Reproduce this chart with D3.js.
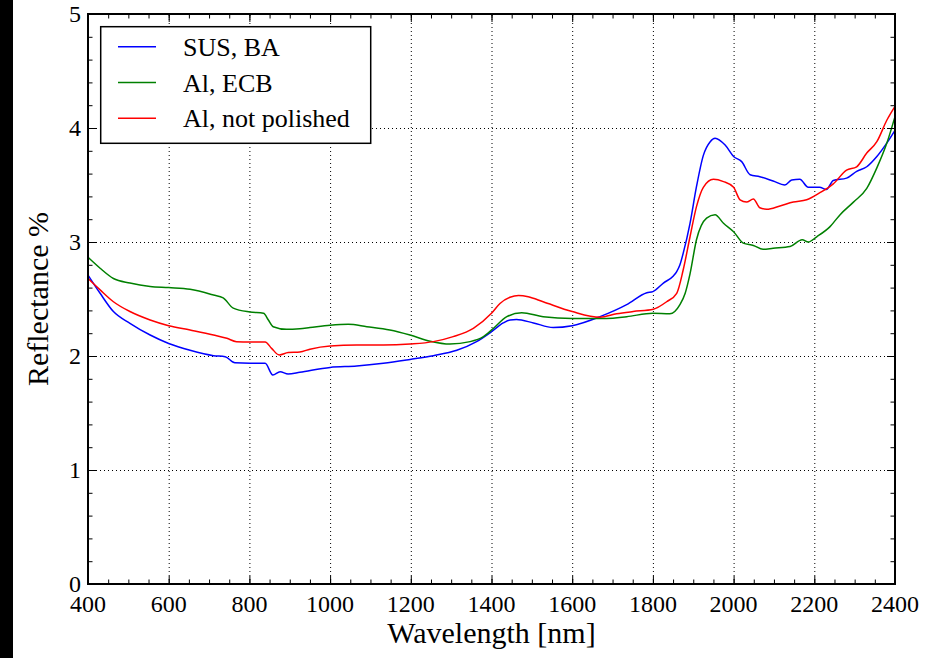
<!DOCTYPE html>
<html>
<head>
<meta charset="utf-8">
<script src="https://cdn.jsdelivr.net/npm/d3@7"></script>
</head>
<body style="margin:0;background:#fff">
<svg id="chart" width="925" height="658"></svg>
<script>
// series: [wavelength nm, reflectance %]
const susBA = [
  [400, 2.71], [430, 2.55], [463, 2.39], [504, 2.287], [554, 2.184], [600, 2.11],
  [653, 2.05], [711, 2.003], [740, 1.994], [764, 1.94], [801, 1.936], [839, 1.936],
  [858, 1.833], [876, 1.862], [896, 1.842], [925, 1.857], [1000, 1.90], [1066, 1.912],
  [1132, 1.936], [1198, 1.97], [1256, 2.003], [1314, 2.05], [1363, 2.126], [1400, 2.213],
  [1429, 2.29], [1446, 2.316], [1462, 2.32], [1504, 2.29], [1553, 2.25], [1600, 2.266],
  [1669, 2.345], [1735, 2.45], [1785, 2.555], [1800, 2.565], [1826, 2.64], [1850, 2.70],
  [1859, 2.74], [1867, 2.80], [1875, 2.90], [1892, 3.164], [1908, 3.485], [1925, 3.76],
  [1942, 3.88], [1954, 3.91], [1979, 3.85], [2000, 3.75], [2020, 3.705], [2041, 3.59],
  [2065, 3.573], [2098, 3.535], [2127, 3.50], [2144, 3.544], [2164, 3.55], [2185, 3.48],
  [2213, 3.48], [2230, 3.46], [2247, 3.54], [2280, 3.56], [2305, 3.62], [2330, 3.66],
  [2355, 3.75], [2380, 3.87], [2400, 3.98]
];

const alECB = [
  [400, 2.866], [430, 2.77], [463, 2.68], [504, 2.64], [554, 2.61], [600, 2.60],
  [653, 2.585], [711, 2.535], [735, 2.51], [760, 2.42], [801, 2.386], [835, 2.375],
  [847, 2.316], [859, 2.257], [892, 2.234], [925, 2.24], [950, 2.25], [1000, 2.27],
  [1045, 2.278], [1091, 2.257], [1148, 2.228], [1198, 2.184], [1248, 2.13], [1297, 2.105],
  [1347, 2.126], [1380, 2.17], [1405, 2.243], [1438, 2.345], [1475, 2.38], [1528, 2.345],
  [1600, 2.33], [1685, 2.33], [1735, 2.345], [1800, 2.375], [1842, 2.37], [1867, 2.45],
  [1880, 2.55], [1892, 2.72], [1908, 3.02], [1933, 3.21], [1954, 3.24], [1975, 3.164],
  [2000, 3.09], [2024, 2.99], [2049, 2.97], [2073, 2.936], [2098, 2.945], [2140, 2.96],
  [2170, 3.02], [2185, 3.0], [2206, 3.046], [2239, 3.135], [2264, 3.24], [2297, 3.35],
  [2330, 3.47], [2355, 3.65], [2380, 3.87], [2400, 4.10]
];

const alNotPolished = [
  [400, 2.68], [430, 2.58], [463, 2.476], [504, 2.39], [554, 2.316], [600, 2.266],
  [653, 2.228], [711, 2.184], [744, 2.155], [768, 2.126], [801, 2.123], [839, 2.123],
  [855, 2.067], [874, 2.009], [896, 2.03], [925, 2.035], [950, 2.06], [1000, 2.088],
  [1066, 2.096], [1132, 2.096], [1198, 2.105], [1256, 2.126], [1305, 2.17], [1355, 2.243],
  [1400, 2.375], [1421, 2.46], [1446, 2.515], [1467, 2.53], [1491, 2.52], [1528, 2.476],
  [1600, 2.39], [1669, 2.34], [1710, 2.37], [1751, 2.39], [1801, 2.41], [1834, 2.476],
  [1859, 2.55], [1875, 2.754], [1892, 3.046], [1908, 3.31], [1925, 3.48], [1950, 3.55],
  [1975, 3.53], [2000, 3.48], [2016, 3.37], [2032, 3.35], [2049, 3.377], [2065, 3.30],
  [2082, 3.287], [2115, 3.316], [2148, 3.35], [2181, 3.37], [2213, 3.43], [2247, 3.51],
  [2280, 3.63], [2305, 3.66], [2330, 3.78], [2355, 3.88], [2380, 4.07], [2400, 4.19]
];

const seriesNames = ['SUS, BA', 'Al, ECB', 'Al, not polished'];
const seriesColors = ['#0000ff', '#008000', '#ff0000'];
const xTicks = [400, 600, 800, 1000, 1200, 1400, 1600, 1800, 2000, 2200, 2400];
const yTicks = [0, 1, 2, 3, 4, 5];

const serifFont = 'Liberation Serif';

const margin = {top: 14, left: 88, right: 30, bottom: 74};
const W = 925, H = 658;
const innerWidth = W - margin.left - margin.right;
const innerHeight = H - margin.top - margin.bottom;

const svg = d3.select('#chart');

// black strip on the left edge
svg.append('rect').attr('x', 0).attr('y', 0).attr('width', 13).attr('height', H).attr('fill', '#000');

const g = svg.append('g').attr('transform', `translate(${margin.left}, ${margin.top})`);

const xScale = d3.scaleLinear().domain([400, 2400]).range([0, innerWidth]);
const yScale = d3.scaleLinear().domain([0, 5]).range([innerHeight, 0]);

// dotted grid
g.append('g')
  .attr('transform', `translate(0, ${innerHeight})`)
  .call(d3.axisBottom(xScale).tickValues(xTicks).tickSize(-innerHeight).tickFormat(''))
  .call(a => a.select('.domain').remove())
  .selectAll('line').attr('stroke', '#000').attr('stroke-dasharray', '1,3');
g.append('g')
  .call(d3.axisLeft(yScale).tickValues(yTicks).tickSize(-innerWidth).tickFormat(''))
  .call(a => a.select('.domain').remove())
  .selectAll('line').attr('stroke', '#000').attr('stroke-dasharray', '1,3');

// lines
const lineGen = d3.line()
  .x(d => xScale(d[0]))
  .y(d => yScale(d[1]))
  .curve(d3.curveMonotoneX);

g.selectAll('.series')
  .data([susBA, alECB, alNotPolished])
  .join('path')
  .attr('class', 'series')
  .attr('fill', 'none')
  .attr('stroke', (d, i) => seriesColors[i])
  .attr('stroke-width', 1.5)
  .attr('d', lineGen);

// ticks, pointing inward on all four sides
const xMinor = d3.range(400, 2401, 50);
const yMinor = d3.range(0, 5.01, 0.2);

function styleAxis(sel) {
  sel.select('.domain').remove();
  sel.selectAll('line').attr('stroke', '#000').attr('stroke-width', 1);
}

g.append('g').attr('transform', `translate(0, ${innerHeight})`)
  .call(d3.axisBottom(xScale).tickValues(xMinor).tickSizeInner(-4.5).tickFormat('')).call(styleAxis);
g.append('g')
  .call(d3.axisTop(xScale).tickValues(xMinor).tickSizeInner(-4.5).tickFormat('')).call(styleAxis);
g.append('g')
  .call(d3.axisLeft(yScale).tickValues(yMinor).tickSizeInner(-4.5).tickFormat('')).call(styleAxis);
g.append('g').attr('transform', `translate(${innerWidth}, 0)`)
  .call(d3.axisRight(yScale).tickValues(yMinor).tickSizeInner(-4.5).tickFormat('')).call(styleAxis);
g.append('g')
  .call(d3.axisTop(xScale).tickValues(xTicks).tickSizeInner(-8).tickFormat('')).call(styleAxis);
g.append('g').attr('transform', `translate(${innerWidth}, 0)`)
  .call(d3.axisRight(yScale).tickValues(yTicks).tickSizeInner(-8).tickFormat('')).call(styleAxis);
g.append('g').attr('transform', `translate(0, ${innerHeight})`)
  .call(d3.axisBottom(xScale).tickValues(xTicks).tickSizeInner(-8).tickFormat('')).call(styleAxis);
g.append('g')
  .call(d3.axisLeft(yScale).tickValues(yTicks).tickSizeInner(-8).tickFormat('')).call(styleAxis);

// tick labels
g.selectAll('.x-label')
  .data(xTicks)
  .join('text')
  .attr('class', 'x-label')
  .attr('x', d => xScale(d))
  .attr('y', innerHeight + 28)
  .attr('text-anchor', 'middle')
  .style('font-family', serifFont)
  .style('font-size', '24px')
  .text(d => d);

g.selectAll('.y-label')
  .data(yTicks)
  .join('text')
  .attr('class', 'y-label')
  .attr('x', -7)
  .attr('y', d => yScale(d) + 8)
  .attr('text-anchor', 'end')
  .style('font-family', serifFont)
  .style('font-size', '24px')
  .text(d => d);

// frame
g.append('rect')
  .attr('width', innerWidth).attr('height', innerHeight)
  .attr('fill', 'none').attr('stroke', '#000').attr('stroke-width', 2);

// axis titles
svg.append('text')
  .attr('x', margin.left + innerWidth / 2)
  .attr('y', 643)
  .attr('text-anchor', 'middle')
  .style('font-family', serifFont)
  .style('font-size', '30px')
  .text('Wavelength [nm]');

svg.append('text')
  .attr('transform', `translate(48, ${margin.top + innerHeight / 2}) rotate(-90)`)
  .attr('text-anchor', 'middle')
  .style('font-family', serifFont)
  .style('font-size', '30px')
  .text('Reflectance %');

// legend
const legend = g.append('g').attr('transform', 'translate(12.7, 12.7)');
legend.append('rect')
  .attr('width', 270).attr('height', 116.6)
  .attr('fill', '#fff').attr('stroke', '#000').attr('stroke-width', 1.5);

const legendItems = legend.selectAll('.legend-item')
  .data(seriesNames)
  .join('g')
  .attr('class', 'legend-item')
  .attr('transform', (d, i) => `translate(0, ${20 + i * 35.8})`);

legendItems.append('line')
  .attr('x1', 17.3).attr('x2', 55.3)
  .attr('stroke', (d, i) => seriesColors[i])
  .attr('stroke-width', 1.5);

legendItems.append('text')
  .attr('x', 82.3)
  .attr('y', 9)
  .style('font-family', serifFont)
  .style('font-size', '26px')
  .text(d => d);
</script>
</body>
</html>
